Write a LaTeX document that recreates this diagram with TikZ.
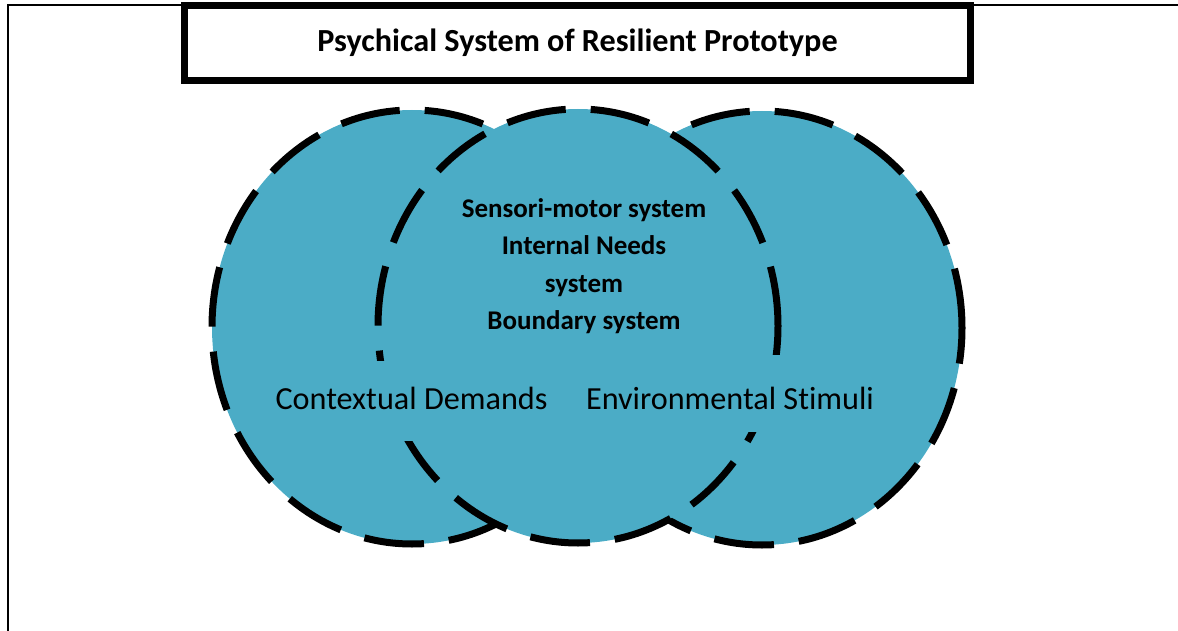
\documentclass[tikz,border=0pt]{standalone}
\usepackage{fontspec}
\setmainfont{Carlito}[Ligatures=NoCommon]
\usetikzlibrary{shapes.geometric}
\definecolor{aqua}{HTML}{4BACC6}

\begin{document}
\begin{tikzpicture}[x=1pt, y=-1pt,
		set/.style={ellipse, draw, fill=aqua, line width=7pt, dash pattern=on 60pt off 25pt,
			minimum width=400pt, minimum height=434pt, inner sep=0pt},
		caption/.style={fill=aqua, anchor=base, inner ysep=0pt, font=\fontsize{32.2}{38}\selectfont},
		core/.style={font=\fontsize{27}{37.5}\selectfont\bfseries, align=center}
		]
	\useasboundingbox (0,0) rectangle (1178,631);
	% frame
	\draw[line width=2pt] (8,631) -- (8,5) -- (1178,5);
	\node [draw, fill=white, line width=7pt, minimum width=786pt, minimum height=75.5pt] (title) at (577.5,43)
		{\fontsize{32.2}{38}\selectfont\bfseries Psychical System of Resilient Prototype};
	% the three sets
	\node [set] (demands) at (412,327) {};
	\node [set] (stimuli) at (762,328) {};
	\node [set] (psyche) at (578,326) {};
	\node [core] (systems) at (584,266) {Sensori-motor system\\Internal Needs\\system\\Boundary system};
	\node [caption, text height=48pt, text depth=32pt] (demandsText) at (411.5,409) {Contextual Demands};
	\node [caption, text height=54pt, text depth=23pt] (stimuliText) at (730,409) {Environmental Stimuli};
\end{tikzpicture}
\end{document}
